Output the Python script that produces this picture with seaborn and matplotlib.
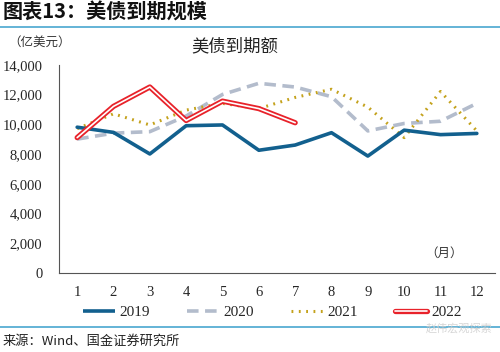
import matplotlib
matplotlib.use("Agg")
import matplotlib.pyplot as plt
import matplotlib.patheffects as pe
from matplotlib.lines import Line2D
import seaborn as sns
import pandas as pd
import numpy as np

months = list(range(1, 13))
month_labels = [str(m) for m in months]
v2019 = [9800, 9450, 8000, 9900, 9950, 8250, 8600, 9430, 7860, 9600, 9300, 9380]
v2020 = [9000, 9400, 9500, 10550, 12000, 12750, 12500, 11850, 9550, 10050, 10200, 11400]
v2021 = [9700, 10700, 9950, 10950, 11400, 11050, 11800, 12350, 11150, 9100, 12200, 9550]
v2022 = [9100, 11200, 12500, 10250, 11550, 11050, 10100]
yticks = [0, 2000, 4000, 6000, 8000, 10000, 12000, 14000]

sns.set_theme(style="white")
plt.rcParams['font.family'] = ['Liberation Serif', 'Noto Sans CJK SC', 'DejaVu Sans']

fig = plt.figure(figsize=(5.0, 3.52), dpi=100)
ax = fig.add_axes([0.118, 0.2244, 0.872, 0.5918])

c19 = '#12608e'
c20 = '#b3bccc'
c21 = '#c4a21c'
c22 = '#e8222a'

df19 = pd.DataFrame({'m': months, 'v': v2019})
df20 = pd.DataFrame({'m': months, 'v': v2020})
df21 = pd.DataFrame({'m': months, 'v': v2021})
df22 = pd.DataFrame({'m': months[:len(v2022)], 'v': v2022})

sns.lineplot(data=df20, x='m', y='v', ax=ax, color=c20, lw=2.6,
             linestyle=(0, (3.2, 1.8)))
sns.lineplot(data=df21, x='m', y='v', ax=ax, color=c21, lw=2.2,
             linestyle=(0, (0.6, 1.8)))
sns.lineplot(data=df19, x='m', y='v', ax=ax, color=c19, lw=2.6)
sns.lineplot(data=df22, x='m', y='v', ax=ax, color='white', lw=1.2)
ax.lines[-1].set_path_effects([pe.Stroke(linewidth=3.8, foreground=c22), pe.Normal()])

ax.set_xlim(0.5, 12.5)
ax.set_ylim(0, 14000)
ax.set_yticks(yticks)
ax.set_yticklabels([f"{t:,}" for t in yticks], fontsize=10.5)
ax.set_xticks(months)
ax.set_xticklabels(month_labels, fontsize=10.5)
ax.set_xticks(np.arange(0.5, 13, 1), minor=True)
ax.tick_params(axis='x', which='major', length=0, pad=9)
ax.tick_params(axis='x', which='minor', length=4, width=0.8, color='#444444', direction='out')
ax.tick_params(axis='y', which='major', length=4, width=0.8, color='#444444', direction='out', pad=8)
ax.set_xlabel('')
ax.set_ylabel('')
for s in ['top', 'right']:
    ax.spines[s].set_visible(False)
for s in ['left', 'bottom']:
    ax.spines[s].set_color('#555555')
    ax.spines[s].set_linewidth(0.8)

ax.text(11.1, 1300, '（月）', fontsize=9, ha='center', va='center',
        family=['Noto Sans CJK SC'], color='#333333')

# Header
fig.text(0.006, 0.965, '图表13：美债到期规模', fontsize=14.5, fontweight='bold',
         style='italic', family=['Noto Sans CJK SC'], ha='left', va='center', color='#111111')
fig.add_artist(Line2D([0, 1], [1 - 27/352, 1 - 27/352], color='#49a7cf', lw=1.2))
fig.text(0.016, 1 - 42/352, '（亿美元）', fontsize=9, family=['Noto Sans CJK SC'],
         ha='left', va='center', color='#333333')
fig.text(0.47, 1 - 46/352, '美债到期额', fontsize=12.5, family=['Noto Sans CJK SC'],
         ha='center', va='center', color='#222222')

# Legend
h19 = Line2D([], [], color=c19, lw=2.6, solid_capstyle='butt')
h20 = Line2D([], [], color=c20, lw=2.6, linestyle=(0, (3.2, 1.8)))
h21 = Line2D([], [], color=c21, lw=2.2, linestyle=(0, (0.6, 1.8)))
h22 = Line2D([], [], color='white', lw=1.2,
             path_effects=[pe.Stroke(linewidth=3.8, foreground=c22), pe.Normal()])
fig.legend([h19, h20, h21, h22], ['2019', '2020', '2021', '2022'], loc='center',
           bbox_to_anchor=(0.545, 1 - 312/352), ncol=4, frameon=False, fontsize=11,
           handlelength=2.1, handletextpad=0.3, columnspacing=2.4)

# Footer
fig.add_artist(Line2D([0, 1], [1 - 327/352, 1 - 327/352], color='#49a7cf', lw=1.2))
fig.text(0.006, 1 - 341/352, '来源：Wind、国金证券研究所', fontsize=9.5,
         family=['Noto Sans CJK SC', 'DejaVu Sans'], ha='left', va='center', color='#222222')
fig.text(0.985, 1 - 328/352, '赵伟宏观探索', fontsize=8, family=['Noto Sans CJK SC'],
         ha='right', va='center', color='#cccccc', alpha=0.8)

fig.savefig('out.png', dpi=100)
